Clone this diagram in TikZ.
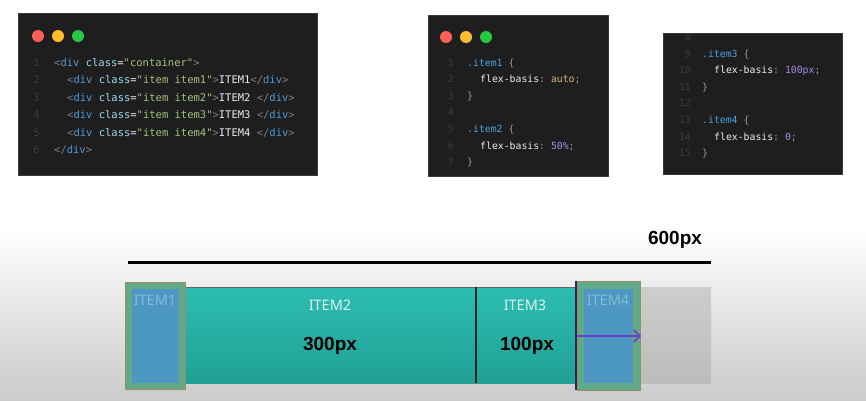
\documentclass[tikz,border=0pt]{standalone}
\usepackage{fontspec}
\setmainfont{Noto Sans}
\setmonofont{DejaVu Sans Mono}
\newfontfamily\sizefont{Liberation Sans}
\usetikzlibrary{arrows.meta}
\definecolor{codebg}{HTML}{1E1E1E}
\definecolor{codeframe}{HTML}{3A3A3A}
\definecolor{lnum}{HTML}{3C3C3C}
\definecolor{ctag}{HTML}{808080}
\definecolor{cdiv}{HTML}{4E9AD6}
\definecolor{cattr}{HTML}{9CD8F0}
\definecolor{cstr}{HTML}{A6C47C}
\definecolor{cwhite}{HTML}{EDEDED}
\definecolor{csel}{HTML}{4AA3DA}
\definecolor{cval}{HTML}{D8B878}
\definecolor{cnum}{HTML}{A88CE2}
\definecolor{cpunct}{HTML}{9A9A9A}
\definecolor{dotred}{HTML}{FF5F57}
\definecolor{dotyellow}{HTML}{FEBC2E}
\definecolor{dotgreen}{HTML}{28C840}
\definecolor{bgbot}{HTML}{CBCBCB}
\definecolor{tealtop}{HTML}{2CBDB2}
\definecolor{tealbot}{HTML}{21A095}
\definecolor{graytop}{HTML}{CDCDCD}
\definecolor{graybot}{HTML}{BCBCBC}
\definecolor{itemgreen}{HTML}{62A988}
\definecolor{itemblue}{HTML}{4C98C2}
\definecolor{itemedge}{HTML}{9B8C66}
\definecolor{itemtext}{HTML}{86BAD6}
\definecolor{itemlabel}{HTML}{DDF2F0}
\definecolor{divline}{HTML}{2B2660}
\definecolor{arrowpurple}{HTML}{6A40D0}
\newcommand\ctok[2]{\textcolor{#1}{#2}}
\newcommand\lt{\ctok{ctag}{<}}
\newcommand\gt{\ctok{ctag}{>}}
\newcommand\dv{\ctok{cdiv}{div}}
\newcommand\cl{\ctok{cattr}{class}\ctok{cwhite}{=}}
\tikzset{
  panel/.style={fill=codebg, draw=codeframe, line width=0.8pt},
  lnumber/.style={anchor=base east, inner sep=0pt, text=lnum, font=\ttfamily\fontsize{#1}{#1}\selectfont},
  codeline/.style={anchor=base west, inner sep=0pt, text=cwhite, font=\ttfamily\fontsize{#1}{#1}\selectfont},
  winred/.style={fill=dotred, draw=none},
  winyellow/.style={fill=dotyellow, draw=none},
  wingreen/.style={fill=dotgreen, draw=none},
  itemlbl/.style={text=itemlabel, font=\fontsize{14.5}{14.5}\selectfont, inner sep=0pt},
  itemfaint/.style={text=itemtext, font=\fontsize{14.5}{14.5}\selectfont, inner sep=0pt},
  sizelbl/.style={text=black, font=\sizefont\bfseries\fontsize{19}{19}\selectfont, inner sep=0pt},
  itemouter/.style={fill=itemgreen, draw=itemedge, line width=0.8pt},
  iteminner/.style={fill=itemblue, draw=none},
}
\begin{document}
\begin{tikzpicture}[x=1pt,y=-1pt]
\useasboundingbox (0,0) rectangle (866,400);
% background
\fill[white] (0,0) rectangle (866,400);
\shade[top color=white, bottom color=bgbot] (0,225) rectangle (866,400);

% ---------- panel 1 ----------
\draw[panel] (18,13) rectangle (317,175);
\fill[winred] (38,36) circle (6);
\fill[winyellow] (58,36) circle (6);
\fill[wingreen] (78,36) circle (6);
\foreach \n/\yy in {1/66,2/83.5,3/101,4/118.5,5/136,6/153.5}
  \node[lnumber=10.5] (p1n\n) at (40,\yy) {\n};
\node[codeline=10.5] (p1l1) at (54,66) {\lt\dv\ \cl\ctok{cstr}{"container"}\gt};
\node[codeline=10.5] (p1l2) at (67,83.5) {\lt\dv\ \cl\ctok{cstr}{"item item1"}\gt ITEM1\ctok{ctag}{</}\dv\gt};
\node[codeline=10.5] (p1l3) at (67,101) {\lt\dv\ \cl\ctok{cstr}{"item item2"}\gt ITEM2 \ctok{ctag}{</}\dv\gt};
\node[codeline=10.5] (p1l4) at (67,118.5) {\lt\dv\ \cl\ctok{cstr}{"item item3"}\gt ITEM3 \ctok{ctag}{</}\dv\gt};
\node[codeline=10.5] (p1l5) at (67,136) {\lt\dv\ \cl\ctok{cstr}{"item item4"}\gt ITEM4 \ctok{ctag}{</}\dv\gt};
\node[codeline=10.5] (p1l6) at (54,153.5) {\ctok{ctag}{</}\dv\gt};

% ---------- panel 2 ----------
\draw[panel] (428,15) rectangle (608,176);
\fill[winred] (446,37) circle (6);
\fill[winyellow] (466,37) circle (6);
\fill[wingreen] (486,37) circle (6);
\foreach \n/\yy in {1/66,2/82.6,3/99.2,4/115.8,5/132.4,6/149,7/165.6}
  \node[lnumber=9.8] (p2n\n) at (454,\yy) {\n};
\node[codeline=9.8] (p2l1) at (467,66) {\ctok{csel}{.item1} \ctok{cpunct}{\{}};
\node[codeline=9.8] (p2l2) at (480,82.6) {flex-basis\ctok{cpunct}{:} \ctok{cval}{auto}\ctok{cpunct}{;}};
\node[codeline=9.8] (p2l3) at (467,99.2) {\ctok{cpunct}{\}}};
\node[codeline=9.8] (p2l5) at (467,132.4) {\ctok{csel}{.item2} \ctok{cpunct}{\{}};
\node[codeline=9.8] (p2l6) at (480,149) {flex-basis\ctok{cpunct}{:} \ctok{cnum}{50\%}\ctok{cpunct}{;}};
\node[codeline=9.8] (p2l7) at (467,165.6) {\ctok{cpunct}{\}}};

% ---------- panel 3 ----------
\draw[panel] (663,33) rectangle (842,174);
\begin{scope}
\clip (663.5,33.5) rectangle (841.5,173.5);
\node[lnumber=9.8] (p3n8) at (691,40.4) {8};
\end{scope}
\foreach \n/\yy in {9/57,10/73.6,11/90.2,12/106.8,13/123.4,14/140,15/156.6}
  \node[lnumber=9.8] (p3n\n) at (691,\yy) {\n};
\node[codeline=9.8] (p3l9) at (702,57) {\ctok{csel}{.item3} \ctok{cpunct}{\{}};
\node[codeline=9.8] (p3l10) at (714,73.6) {flex-basis\ctok{cpunct}{:} \ctok{cnum}{100px}\ctok{cpunct}{;}};
\node[codeline=9.8] (p3l11) at (702,90.2) {\ctok{cpunct}{\}}};
\node[codeline=9.8] (p3l13) at (702,123.4) {\ctok{csel}{.item4} \ctok{cpunct}{\{}};
\node[codeline=9.8] (p3l14) at (714,140) {flex-basis\ctok{cpunct}{:} \ctok{cnum}{0}\ctok{cpunct}{;}};
\node[codeline=9.8] (p3l15) at (702,156.6) {\ctok{cpunct}{\}}};

% ---------- flex demo ----------
\node[sizelbl] (w600) at (675,240) {600px};
\draw[line width=3pt, black] (128,262) -- (711,262);

% container
\shade[top color=graytop, bottom color=graybot] (128,287) rectangle (711,383);
% teal items
\shade[top color=tealtop, bottom color=tealbot] (183,287) rectangle (576,383);
\draw[line width=1.5pt, black!60] (183,287.5) -- (576,287.5);
\draw[line width=2pt, black!85] (476,287) -- (476,383);

\node[itemlbl] (t2) at (330,305) {ITEM2};
\node[sizelbl] (s2) at (330,346) {300px};
\node[itemlbl] (t3) at (525,305) {ITEM3};
\node[sizelbl] (s3) at (527,346) {100px};

% item1
\draw[itemouter] (125.5,282) rectangle (185,389);
\fill[iteminner] (131.5,288.5) rectangle (179,383);
\node[itemfaint] (t1) at (155,300) {ITEM1};

% item4
\draw[itemouter] (577,281.5) rectangle (640,390);
\fill[iteminner] (584,288.5) rectangle (632.5,383);
\node[itemfaint] (t4) at (608,300) {ITEM4};
\draw[line width=2pt, divline] (575.5,281) -- (575.5,390);

% arrow
\coordinate (a0) at (577,336);
\coordinate (a1) at (641,336);
\draw[arrowpurple, line width=1.5pt, -{Straight Barb[length=6pt,width=12pt]}] (a0) -- (a1);
\end{tikzpicture}
\end{document}
